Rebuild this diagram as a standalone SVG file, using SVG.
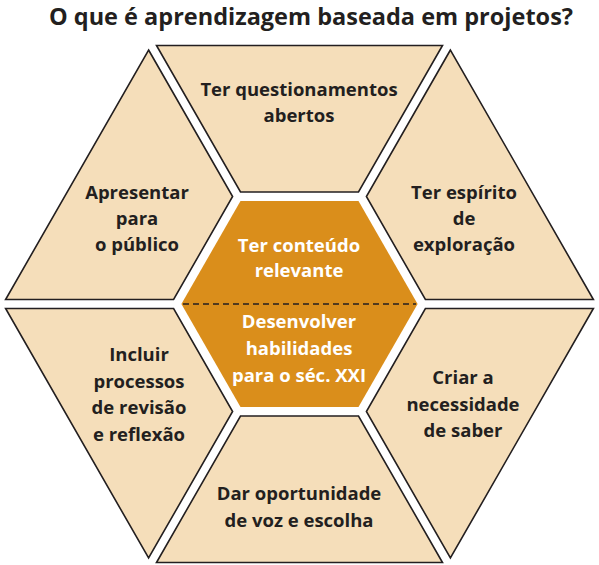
<svg xmlns="http://www.w3.org/2000/svg" width="599" height="565" viewBox="0 0 599 565">
<style>
.p{fill:#F5DEBA;stroke:#231F20;stroke-width:1.6;stroke-linejoin:miter}
.c{fill:#DA8E1B}
.t{font-family:"Open Sans","Liberation Sans",sans-serif;font-weight:700;font-size:18.5px;fill:#231F20;text-anchor:middle}
.w{fill:#FFFFFF}
.h{font-family:"Open Sans","Liberation Sans",sans-serif;font-weight:700;font-size:23.5px;fill:#231F20;text-anchor:middle}
</style>
<rect width="599" height="565" fill="#FFFFFF"/>
<text class="h" x="311" y="25">O que é aprendizagem baseada em projetos?</text>
<g id="top">
<polygon class="p" points="156.5,45.5 442.5,45.5 358.5,192 240.5,192"/>
<text class="t" x="299" y="96">Ter questionamentos</text>
<text class="t" x="299" y="122">abertos</text>
</g>
<g id="upper-left">
<polygon class="p" points="148.6,50 232.6,196.5 173.6,299.5 5.6,299.5"/>
<text class="t" x="137" y="199">Apresentar</text>
<text class="t" x="137" y="225">para</text>
<text class="t" x="137" y="251">o público</text>
</g>
<g id="upper-right">
<polygon class="p" points="450.4,50 366.4,196.5 425.4,299.5 593.4,299.5"/>
<text class="t" x="464" y="199">Ter espírito</text>
<text class="t" x="464" y="225">de</text>
<text class="t" x="464" y="251">exploração</text>
</g>
<g id="lower-left">
<polygon class="p" points="5.6,308.5 173.6,308.5 232.6,411.5 148.6,558"/>
<text class="t" x="139" y="361">Incluir</text>
<text class="t" x="139" y="388">processos</text>
<text class="t" x="139" y="414">de revisão</text>
<text class="t" x="139" y="441">e reflexão</text>
</g>
<g id="lower-right">
<polygon class="p" points="593.4,308.5 425.4,308.5 366.4,411.5 450.4,558"/>
<text class="t" x="463" y="384">Criar a</text>
<text class="t" x="463" y="411">necessidade</text>
<text class="t" x="463" y="437">de saber</text>
</g>
<g id="bottom">
<polygon class="p" points="156.5,562.5 442.5,562.5 358.5,416 240.5,416"/>
<text class="t" x="299" y="500">Dar oportunidade</text>
<text class="t" x="299" y="527">de voz e escolha</text>
</g>
<g id="center">
<polygon class="c" points="181.4,304 240.5,201 358.5,201 417.6,304 358.5,407 240.5,407"/>
<text class="t w" x="299" y="252">Ter conteúdo</text>
<text class="t w" x="299" y="277">relevante</text>
<text class="t w" x="299" y="328">Desenvolver</text>
<text class="t w" x="299" y="355">habilidades</text>
<text class="t w" x="299" y="382">para o séc. XXI</text>
</g>
<g id="connectors">
<line x1="183" y1="304" x2="416" y2="304" stroke="#231F20" stroke-width="1.6" stroke-dasharray="6,4"/>
</g>
</svg>
